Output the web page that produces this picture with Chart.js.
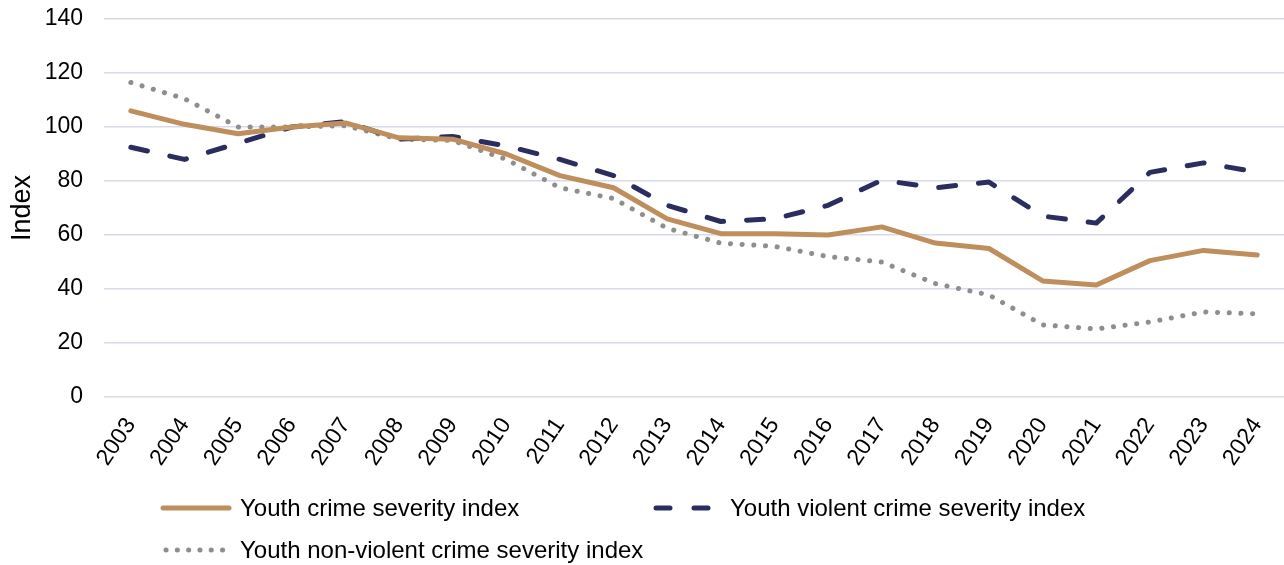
<!DOCTYPE html>
<html>
<head>
<meta charset="utf-8">
<script src="https://cdn.jsdelivr.net/npm/chart.js@4.4.1/dist/chart.umd.min.js"></script>
<style>
  html, body { margin: 0; padding: 0; background: #ffffff; }
  #wrap { width: 1284px; height: 565px; position: relative; }
</style>
</head>
<body>
<div id="wrap"><canvas id="chart" width="1284" height="565"></canvas></div>
<script>
// Years on the x axis
const years = ['2003','2004','2005','2006','2007','2008','2009','2010','2011','2012','2013',
               '2014','2015','2016','2017','2018','2019','2020','2021','2022','2023','2024'];

// Index values per year (2006 = 100)
const youthCrimeSeverity = [106, 101, 97.5, 100, 101.5, 96, 95.5, 90, 82, 77.5, 66,
                            60.5, 60.5, 60, 63, 57, 55, 43, 41.5, 50.5, 54.3, 52.6];
const youthViolentSeverity = [92.5, 88, 94, 100, 102, 95.5, 96.5, 93, 88, 82, 71,
                              65, 66, 71, 80.3, 77.5, 79.6, 67, 64.4, 83.2, 86.7, 83.3];
const youthNonViolentSeverity = [116.5, 110.5, 100, 100, 100.5, 95.5, 95, 88, 77.5, 73.5, 62.5,
                                 57, 55.8, 52, 50, 42, 37.8, 26.7, 25.2, 27.8, 31.5, 30.8];

// Y axis
const yTicksMin = 0;
const yTicksMax = 140;
const yTicksStep = 20;

const seriesLabels = [
  'Youth crime severity index',
  'Youth violent crime severity index',
  'Youth non-violent crime severity index'
];

const FONT = "'Liberation Sans', Arial, sans-serif";
const TAN = '#BE8E5C';
const NAVY = '#2B2D5E';
const GREY = '#8E8E8E';

// Legend drawn onto the canvas in a two-column layout below the axis
const legendPlugin = {
  id: 'gridLegend',
  afterDraw(chart) {
    const ctx = chart.ctx;
    const slots = [
      { x: 163, y: 508 },
      { x: 653, y: 508 },
      { x: 163, y: 550 }
    ];
    chart.data.datasets.forEach((ds, i) => {
      const s = slots[i];
      ctx.save();
      ctx.strokeStyle = ds.borderColor;
      ctx.lineWidth = ds.borderWidth;
      ctx.lineCap = ds.borderCapStyle || 'butt';
      ctx.setLineDash(ds.legendDash || ds.borderDash || []);
      ctx.beginPath();
      ctx.moveTo(s.x + (ds.legendInset || 0), s.y);
      ctx.lineTo(s.x + 66 - (ds.legendInset || 0), s.y);
      ctx.stroke();
      ctx.restore();
      ctx.save();
      ctx.fillStyle = '#000000';
      ctx.font = '24px ' + FONT;
      ctx.textBaseline = 'middle';
      ctx.textAlign = 'left';
      ctx.fillText(ds.label, s.x + 77, s.y + 1);
      ctx.restore();
    });
  }
};

new Chart(document.getElementById('chart'), {
  type: 'line',
  data: {
    labels: years,
    datasets: [
      {
        label: seriesLabels[0],
        data: youthCrimeSeverity,
        borderColor: TAN,
        borderWidth: 5,
        borderCapStyle: 'round',
        borderJoinStyle: 'round',
        pointRadius: 0,
        tension: 0
      },
      {
        label: seriesLabels[1],
        data: youthViolentSeverity,
        borderColor: NAVY,
        borderWidth: 5,
        borderCapStyle: 'round',
        borderJoinStyle: 'round',
        borderDash: [17, 23],
        legendDash: [14, 24],
        legendInset: 3,
        pointRadius: 0,
        tension: 0
      },
      {
        label: seriesLabels[2],
        data: youthNonViolentSeverity,
        borderColor: GREY,
        borderWidth: 5,
        borderCapStyle: 'round',
        borderJoinStyle: 'round',
        borderDash: [0.1, 11.6],
        legendDash: [0.1, 11.2],
        legendInset: 3,
        pointRadius: 0,
        tension: 0
      }
    ]
  },
  options: {
    responsive: false,
    animation: false,
    events: [],
    layout: { padding: { top: 19, right: 0, bottom: 98, left: 0 } },
    plugins: {
      legend: { display: false },
      tooltip: { enabled: false }
    },
    scales: {
      x: {
        offset: true,
        grid: { display: false, drawTicks: false },
        border: { display: false },
        ticks: {
          color: '#000000',
          font: { family: FONT, size: 23 },
          minRotation: 56,
          maxRotation: 56,
          autoSkip: false,
          padding: 16
        },
        afterFit(scale) {
          scale.height = 70;
          scale.paddingLeft = 0;
          scale.paddingRight = 0;
        }
      },
      y: {
        min: yTicksMin,
        max: yTicksMax,
        grid: { color: '#D9D9EA', lineWidth: 1.6, drawTicks: false },
        border: { display: false },
        ticks: {
          stepSize: yTicksStep,
          color: '#000000',
          font: { family: FONT, size: 23 },
          padding: 21
        },
        title: {
          display: true,
          text: 'Index',
          color: '#000000',
          font: { family: FONT, size: 27 },
          padding: { top: 6, bottom: 0 }
        },
        afterFit(scale) {
          scale.width = 104;
          scale.paddingTop = 0;
          scale.paddingBottom = 0;
        }
      }
    }
  },
  plugins: [legendPlugin]
});
</script>
</body>
</html>
